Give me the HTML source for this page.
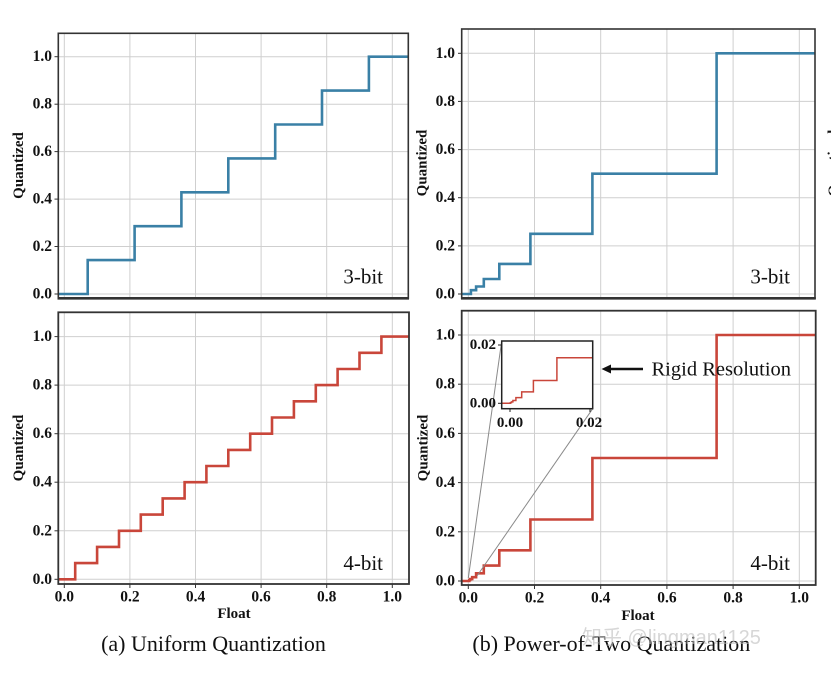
<!DOCTYPE html>
<html><head><meta charset="utf-8"><style>
html,body{margin:0;padding:0;background:#fff;}
svg{display:block;}
.tk{font-family:"Liberation Serif",serif;font-weight:bold;font-size:15.5px;fill:#111;}
.itk{font-family:"Liberation Serif",serif;font-weight:bold;font-size:15px;fill:#111;}
.lab{font-family:"Liberation Serif",serif;font-weight:bold;font-size:15px;fill:#111;}
.cap{font-family:"Liberation Serif",serif;font-size:22px;fill:#111;}
.bit{font-family:"Liberation Serif",serif;font-size:21px;fill:#111;}
.grid line{stroke:#cfcfcf;stroke-width:1;}
</style></head><body>
<svg width="831" height="674" viewBox="0 0 831 674" xmlns="http://www.w3.org/2000/svg">
<rect width="831" height="674" fill="#fff"/>

<!-- ===== TOP LEFT ===== -->
<g class="grid">
<line x1="58.3" x2="408.3" y1="294" y2="294"/><line x1="58.3" x2="408.3" y1="246.5" y2="246.5"/>
<line x1="58.3" x2="408.3" y1="199.1" y2="199.1"/><line x1="58.3" x2="408.3" y1="151.6" y2="151.6"/>
<line x1="58.3" x2="408.3" y1="104.2" y2="104.2"/><line x1="58.3" x2="408.3" y1="56.7" y2="56.7"/>
<line x1="64.3" x2="64.3" y1="33.3" y2="298.3"/><line x1="129.9" x2="129.9" y1="33.3" y2="298.3"/>
<line x1="195.5" x2="195.5" y1="33.3" y2="298.3"/><line x1="261.1" x2="261.1" y1="33.3" y2="298.3"/>
<line x1="326.7" x2="326.7" y1="33.3" y2="298.3"/><line x1="392.3" x2="392.3" y1="33.3" y2="298.3"/>
</g>
<path d="M58.3,294 H87.7 V260.1 H134.6 V226.2 H181.4 V192.3 H228.3 V158.4 H275.2 V124.5 H322.0 V90.6 H368.9 V56.7 H408.3" fill="none" stroke="#3a80a6" stroke-width="2.6"/>
<rect x="58.3" y="33.3" width="350" height="265" fill="none" stroke="#333" stroke-width="1.6"/>
<line x1="57.5" x2="409" y1="298.3" y2="298.3" stroke="#333" stroke-width="2.6"/>
<g stroke="#333" stroke-width="1">
<line x1="54.5" x2="58.3" y1="294" y2="294"/><line x1="54.5" x2="58.3" y1="246.5" y2="246.5"/><line x1="54.5" x2="58.3" y1="199.1" y2="199.1"/>
<line x1="54.5" x2="58.3" y1="151.6" y2="151.6"/><line x1="54.5" x2="58.3" y1="104.2" y2="104.2"/><line x1="54.5" x2="58.3" y1="56.7" y2="56.7"/>
</g>
<g class="tk" text-anchor="end" dominant-baseline="central">
<text x="52" y="294">0.0</text><text x="52" y="246.5">0.2</text><text x="52" y="199.1">0.4</text>
<text x="52" y="151.6">0.6</text><text x="52" y="104.2">0.8</text><text x="52" y="56.7">1.0</text>
</g>
<text class="lab" transform="translate(23,165.5) rotate(-90)" text-anchor="middle">Quantized</text>
<text class="bit" x="383" y="283.3" text-anchor="end">3-bit</text>

<!-- ===== BOTTOM LEFT ===== -->
<g class="grid">
<line x1="58.3" x2="409" y1="579.3" y2="579.3"/><line x1="58.3" x2="409" y1="530.8" y2="530.8"/>
<line x1="58.3" x2="409" y1="482.2" y2="482.2"/><line x1="58.3" x2="409" y1="433.7" y2="433.7"/>
<line x1="58.3" x2="409" y1="385.1" y2="385.1"/><line x1="58.3" x2="409" y1="336.6" y2="336.6"/>
<line x1="64.3" x2="64.3" y1="312.3" y2="584"/><line x1="129.9" x2="129.9" y1="312.3" y2="584"/>
<line x1="195.5" x2="195.5" y1="312.3" y2="584"/><line x1="261.1" x2="261.1" y1="312.3" y2="584"/>
<line x1="326.7" x2="326.7" y1="312.3" y2="584"/><line x1="392.3" x2="392.3" y1="312.3" y2="584"/>
</g>
<path d="M58.3,579.3 H75.2 V563.1 H97.1 V546.9 H119.0 V530.8 H140.8 V514.6 H162.7 V498.4 H184.6 V482.2 H206.4 V466.0 H228.3 V449.9 H250.2 V433.7 H272.0 V417.5 H293.9 V401.3 H315.8 V385.1 H337.6 V369.0 H359.5 V352.8 H381.4 V336.6 H409" fill="none" stroke="#c9463a" stroke-width="2.6"/>
<rect x="58.3" y="312.3" width="350.7" height="271.7" fill="none" stroke="#333" stroke-width="1.8"/>
<g stroke="#333" stroke-width="1">
<line x1="54.5" x2="58.3" y1="579.3" y2="579.3"/><line x1="54.5" x2="58.3" y1="530.8" y2="530.8"/><line x1="54.5" x2="58.3" y1="482.2" y2="482.2"/>
<line x1="54.5" x2="58.3" y1="433.7" y2="433.7"/><line x1="54.5" x2="58.3" y1="385.1" y2="385.1"/><line x1="54.5" x2="58.3" y1="336.6" y2="336.6"/>
<line x1="64.3" x2="64.3" y1="584" y2="588"/><line x1="129.9" x2="129.9" y1="584" y2="588"/><line x1="195.5" x2="195.5" y1="584" y2="588"/>
<line x1="261.1" x2="261.1" y1="584" y2="588"/><line x1="326.7" x2="326.7" y1="584" y2="588"/><line x1="392.3" x2="392.3" y1="584" y2="588"/>
</g>
<g class="tk" text-anchor="end" dominant-baseline="central">
<text x="52" y="579.3">0.0</text><text x="52" y="530.8">0.2</text><text x="52" y="482.2">0.4</text>
<text x="52" y="433.7">0.6</text><text x="52" y="385.1">0.8</text><text x="52" y="336.6">1.0</text>
</g>
<g class="tk" text-anchor="middle">
<text x="64.3" y="601.5">0.0</text><text x="129.9" y="601.5">0.2</text><text x="195.5" y="601.5">0.4</text>
<text x="261.1" y="601.5">0.6</text><text x="326.7" y="601.5">0.8</text><text x="392.3" y="601.5">1.0</text>
</g>
<text class="lab" x="234" y="618" text-anchor="middle">Float</text>
<text class="lab" transform="translate(23,448) rotate(-90)" text-anchor="middle">Quantized</text>
<text class="bit" x="383" y="570" text-anchor="end">4-bit</text>
<text class="cap" x="213.5" y="651" text-anchor="middle">(a) Uniform Quantization</text>

<!-- ===== TOP RIGHT ===== -->
<g class="grid">
<line x1="461.7" x2="815" y1="294" y2="294"/><line x1="461.7" x2="815" y1="245.9" y2="245.9"/>
<line x1="461.7" x2="815" y1="197.7" y2="197.7"/><line x1="461.7" x2="815" y1="149.6" y2="149.6"/>
<line x1="461.7" x2="815" y1="101.4" y2="101.4"/><line x1="461.7" x2="815" y1="53.3" y2="53.3"/>
<line x1="468.3" x2="468.3" y1="29" y2="298.3"/><line x1="534.5" x2="534.5" y1="29" y2="298.3"/>
<line x1="600.7" x2="600.7" y1="29" y2="298.3"/><line x1="666.9" x2="666.9" y1="29" y2="298.3"/>
<line x1="733.1" x2="733.1" y1="29" y2="298.3"/><line x1="799.3" x2="799.3" y1="29" y2="298.3"/>
</g>
<path d="M461.7,294 H470.9 V290.2 H476.1 V286.5 H483.8 V279.0 H499.3 V263.9 H530.4 V233.8 H592.4 V173.7 H716.6 V53.3 H815" fill="none" stroke="#3a80a6" stroke-width="2.6"/>
<rect x="461.7" y="29" width="353.3" height="269.3" fill="none" stroke="#333" stroke-width="1.6"/>
<line x1="461" x2="815.8" y1="298.3" y2="298.3" stroke="#333" stroke-width="2.6"/>
<g stroke="#333" stroke-width="1">
<line x1="458" x2="461.7" y1="294" y2="294"/><line x1="458" x2="461.7" y1="245.9" y2="245.9"/><line x1="458" x2="461.7" y1="197.7" y2="197.7"/>
<line x1="458" x2="461.7" y1="149.6" y2="149.6"/><line x1="458" x2="461.7" y1="101.4" y2="101.4"/><line x1="458" x2="461.7" y1="53.3" y2="53.3"/>
</g>
<g class="tk" text-anchor="end" dominant-baseline="central">
<text x="455" y="294">0.0</text><text x="455" y="245.9">0.2</text><text x="455" y="197.7">0.4</text>
<text x="455" y="149.6">0.6</text><text x="455" y="101.4">0.8</text><text x="455" y="53.3">1.0</text>
</g>
<text class="lab" transform="translate(426.5,163) rotate(-90)" text-anchor="middle">Quantized</text>
<text class="bit" x="790" y="283.3" text-anchor="end">3-bit</text>

<!-- ===== BOTTOM RIGHT ===== -->
<g class="grid">
<line x1="461.7" x2="815.7" y1="581" y2="581"/><line x1="461.7" x2="815.7" y1="531.8" y2="531.8"/>
<line x1="461.7" x2="815.7" y1="482.6" y2="482.6"/><line x1="461.7" x2="815.7" y1="433.4" y2="433.4"/>
<line x1="461.7" x2="815.7" y1="384.2" y2="384.2"/><line x1="461.7" x2="815.7" y1="335" y2="335"/>
<line x1="468.3" x2="468.3" y1="310.7" y2="585"/><line x1="534.5" x2="534.5" y1="310.7" y2="585"/>
<line x1="600.7" x2="600.7" y1="310.7" y2="585"/><line x1="666.9" x2="666.9" y1="310.7" y2="585"/>
<line x1="733.1" x2="733.1" y1="310.7" y2="585"/><line x1="799.3" x2="799.3" y1="310.7" y2="585"/>
</g>
<path d="M461.7,581 H469.3 V580 H470.2 V579.1 H472.2 V577.2 H476.1 V573.3 H483.8 V565.6 H499.3 V550.3 H530.4 V519.5 H592.4 V458 H716.6 V335 H815.7" fill="none" stroke="#c9463a" stroke-width="2.6"/>
<rect x="461.7" y="310.7" width="354" height="274.3" fill="none" stroke="#333" stroke-width="1.8"/>
<g stroke="#333" stroke-width="1">
<line x1="458" x2="461.7" y1="581" y2="581"/><line x1="458" x2="461.7" y1="531.8" y2="531.8"/><line x1="458" x2="461.7" y1="482.6" y2="482.6"/>
<line x1="458" x2="461.7" y1="433.4" y2="433.4"/><line x1="458" x2="461.7" y1="384.2" y2="384.2"/><line x1="458" x2="461.7" y1="335" y2="335"/>
<line x1="468.3" x2="468.3" y1="585" y2="589"/><line x1="534.5" x2="534.5" y1="585" y2="589"/><line x1="600.7" x2="600.7" y1="585" y2="589"/>
<line x1="666.9" x2="666.9" y1="585" y2="589"/><line x1="733.1" x2="733.1" y1="585" y2="589"/><line x1="799.3" x2="799.3" y1="585" y2="589"/>
</g>
<g class="tk" text-anchor="end" dominant-baseline="central">
<text x="455" y="581">0.0</text><text x="455" y="531.8">0.2</text><text x="455" y="482.6">0.4</text>
<text x="455" y="433.4">0.6</text><text x="455" y="384.2">0.8</text><text x="455" y="335">1.0</text>
</g>
<g class="tk" text-anchor="middle">
<text x="468.3" y="602.5">0.0</text><text x="534.5" y="602.5">0.2</text><text x="600.7" y="602.5">0.4</text>
<text x="666.9" y="602.5">0.6</text><text x="733.1" y="602.5">0.8</text><text x="799.3" y="602.5">1.0</text>
</g>
<text class="lab" x="638" y="620" text-anchor="middle">Float</text>
<text class="lab" transform="translate(427.5,448) rotate(-90)" text-anchor="middle">Quantized</text>
<text class="bit" x="790" y="570" text-anchor="end">4-bit</text>

<!-- connector lines -->
<line x1="468.3" y1="578" x2="501.7" y2="341" stroke="#8a8a8a" stroke-width="1"/>
<line x1="477" y1="576" x2="592.7" y2="408.7" stroke="#8a8a8a" stroke-width="1"/>

<!-- inset -->
<rect x="501.7" y="341" width="91" height="67.7" fill="#fff"/>
<path d="M501.7,403.3 H510.2 V402.9 H510.7 V402.6 H511.5 V401.9 H512.9 V400.5 H515.9 V397.6 H521.7 V391.9 H533.4 V380.5 H556.9 V357.7 H592.7" fill="none" stroke="#c9463a" stroke-width="1.5"/>
<rect x="501.7" y="341" width="91" height="67.7" fill="none" stroke="#222" stroke-width="1.5"/>
<g stroke="#222" stroke-width="1">
<line x1="498" x2="501.7" y1="345" y2="345"/><line x1="498" x2="501.7" y1="403.3" y2="403.3"/>
<line x1="510" x2="510" y1="408.7" y2="412"/><line x1="590" x2="590" y1="408.7" y2="412"/>
</g>
<g class="itk">
<text x="496" y="345" text-anchor="end" dominant-baseline="central">0.02</text>
<text x="496" y="403.3" text-anchor="end" dominant-baseline="central">0.00</text>
<text x="510" y="427" text-anchor="middle">0.00</text>
<text x="589" y="427" text-anchor="middle">0.02</text>
</g>

<!-- arrow annotation -->
<line x1="643" y1="369" x2="608" y2="369" stroke="#111" stroke-width="2.6"/>
<polygon points="601.5,369 611,364.5 611,373.5" fill="#111"/>
<text x="651.5" y="375.5" font-family="Liberation Serif, serif" font-size="20.5" fill="#111">Rigid Resolution</text>

<text class="cap" x="611.3" y="651" text-anchor="middle">(b) Power-of-Two Quantization</text>

<!-- watermark -->
<text x="582" y="644" font-family="Liberation Sans, Noto Sans CJK SC, sans-serif" font-size="20" fill="#bdbdbd" fill-opacity="0.6">知乎 @lingman1125</text>

<!-- partial edge label -->
<text class="lab" transform="translate(838,163) rotate(-90)" text-anchor="middle">Quantized</text>
</svg>
</body></html>
